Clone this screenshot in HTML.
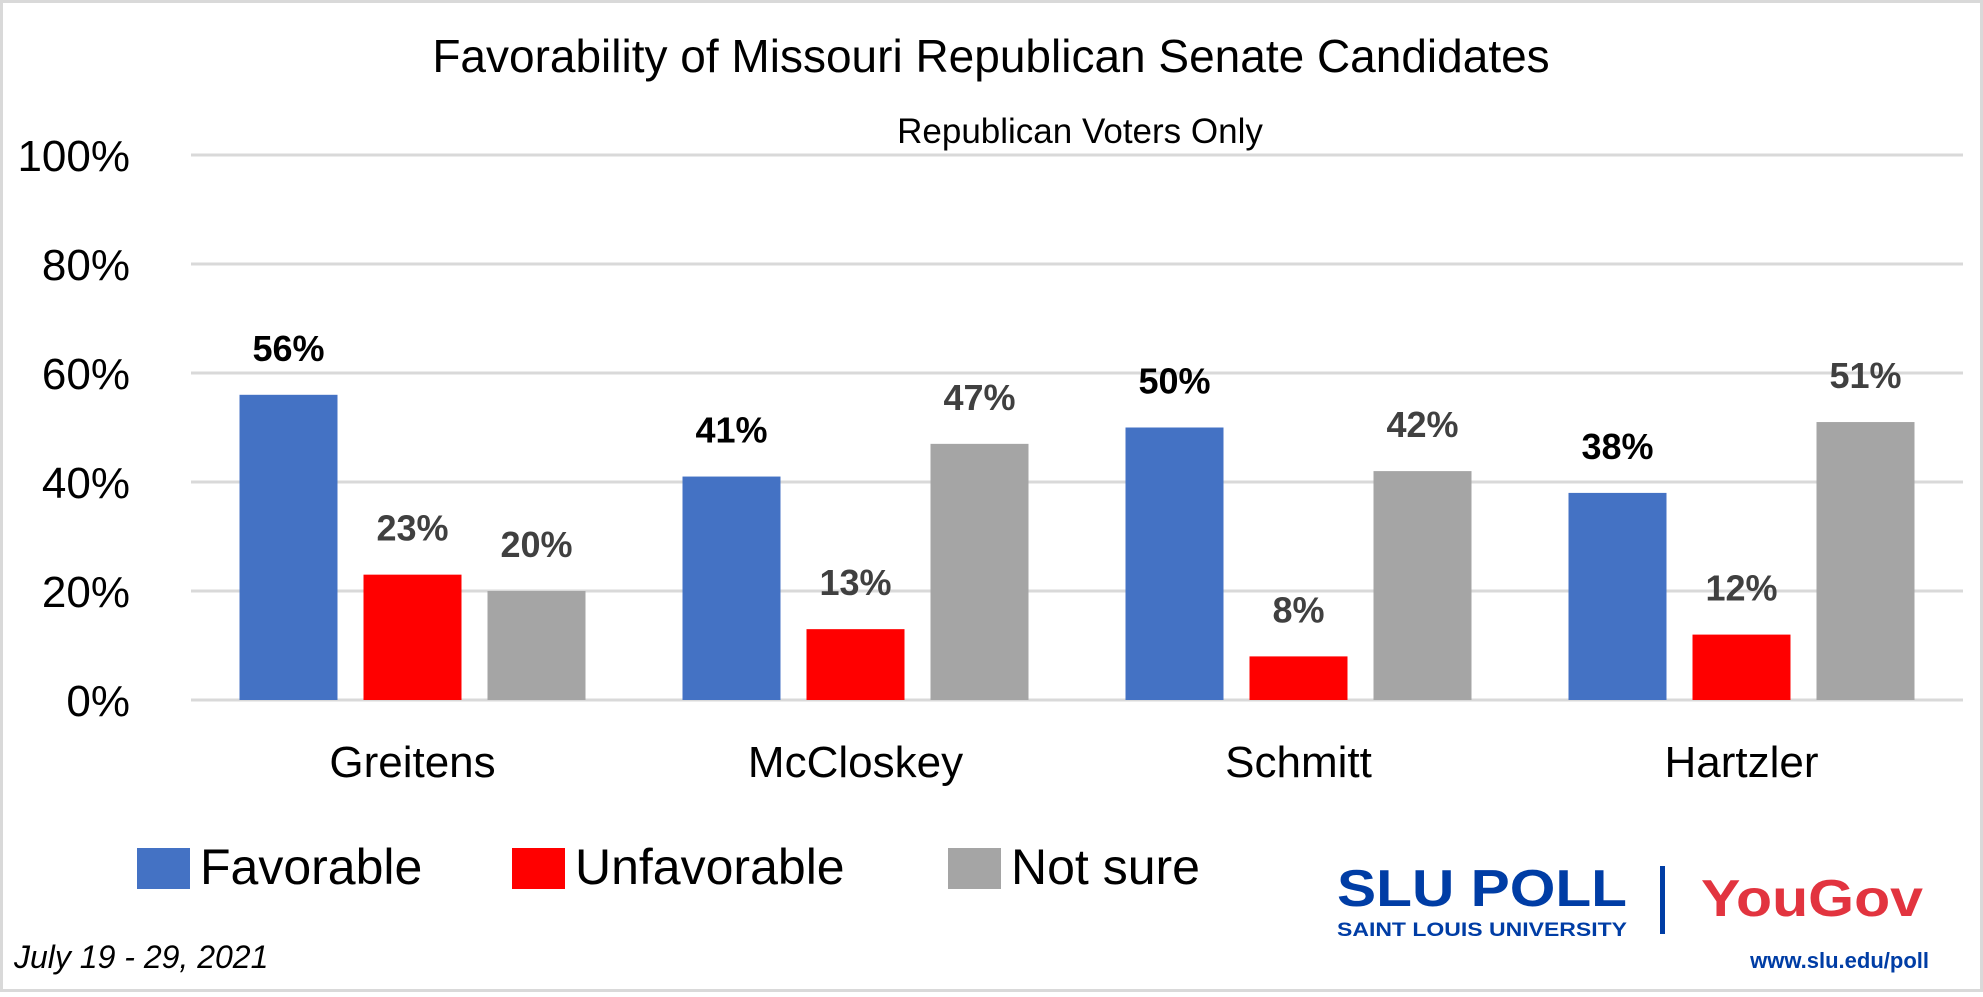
<!DOCTYPE html>
<html><head><meta charset="utf-8"><style>
html,body{margin:0;padding:0;background:#fff}
body{width:1983px;height:992px;overflow:hidden;font-family:"Liberation Sans",sans-serif}
</style></head><body>
<svg width="1983" height="992" viewBox="0 0 1983 992" id="chart" font-family="Liberation Sans, sans-serif">
<rect x="1.5" y="1.5" width="1980" height="989" fill="#fff" stroke="#d9d9d9" stroke-width="3"/>
<text x="991" y="72" font-size="46" text-anchor="middle" fill="#000">Favorability of Missouri Republican Senate Candidates</text>
<text x="1080" y="143" font-size="35" text-anchor="middle" fill="#000">Republican Voters Only</text>
<g id="grid"></g><g id="bars"></g>
<g>
<rect x="137" y="848" width="53" height="41" fill="#4472c4"/>
<text x="200" y="884" font-size="50" fill="#000">Favorable</text>
<rect x="512" y="848" width="53" height="41" fill="#ff0000"/>
<text x="575" y="884" font-size="50" fill="#000">Unfavorable</text>
<rect x="948" y="848" width="53" height="41" fill="#a5a5a5"/>
<text x="1011" y="884" font-size="50" fill="#000">Not sure</text>
</g>
<g>
<text x="1337" y="906" font-size="52" font-weight="bold" fill="#003da5" textLength="290" lengthAdjust="spacingAndGlyphs">SLU POLL</text>
<text x="1337" y="936" font-size="19" font-weight="bold" fill="#003da5" textLength="290" lengthAdjust="spacingAndGlyphs">SAINT LOUIS UNIVERSITY</text>
<rect x="1660" y="866" width="5" height="68" fill="#003da5"/>
<text x="1701" y="916" font-size="52" font-weight="bold" fill="#e2343f" textLength="222" lengthAdjust="spacingAndGlyphs">YouGov</text>
<text x="1929" y="968" font-size="22" font-weight="bold" fill="#003da5" text-anchor="end">www.slu.edu/poll</text>
</g>
<text x="14" y="968" font-size="32" font-style="italic" fill="#000">July 19 - 29, 2021</text>
</svg>
<script>
const categories=["Greitens","McCloskey","Schmitt","Hartzler"];
const favorable=[56,41,50,38];
const unfavorable=[23,13,8,12];
const notSure=[20,47,42,51];
const yTicks=[0,20,40,60,80,100];
const NS="http://www.w3.org/2000/svg";
const x0=191,x1=1963,yZero=700,yTop=155;
const y=v=>yZero-(yZero-yTop)*v/100;
const groupW=(x1-x0)/categories.length;
const grid=document.getElementById('grid'),bars=document.getElementById('bars');
function mk(tag,attrs,parent){const e=document.createElementNS(NS,tag);for(const k in attrs)e.setAttribute(k,attrs[k]);parent.appendChild(e);return e;}
yTicks.forEach(t=>{
  const l=mk('line',{x1:x0,x2:x1,y1:y(t),y2:y(t),stroke:'#d9d9d9','stroke-width':3},grid);
  
  
  const tx=mk('text',{x:130,y:y(t)+16,'font-size':44,'text-anchor':'end',fill:'#000'},grid);
  tx.textContent=t+'%';
  
  
});
const series=[{v:favorable,c:'#4472c4',lc:'#000',n:'favorable'},{v:unfavorable,c:'#ff0000',lc:'#404040',n:'unfavorable'},{v:notSure,c:'#a5a5a5',lc:'#404040',n:'not-sure'}];
const bw=98,step=124;
categories.forEach((cat,i)=>{
  const cx=x0+groupW*(i+0.5);
  series.forEach((s,j)=>{
    const bx=cx-bw/2+(j-1)*step;
    const r=mk('rect',{x:bx,y:y(s.v[i]),width:bw,height:yZero-y(s.v[i]),fill:s.c},bars);
    
    
    const t=mk('text',{x:bx+bw/2,y:y(s.v[i])-34,'font-size':36,'font-weight':'bold','text-anchor':'middle',fill:s.lc},bars);
    t.textContent=s.v[i]+'%';
    
    
  });
  const ct=mk('text',{x:cx,y:777,'font-size':44,'text-anchor':'middle',fill:'#000'},bars);
  ct.textContent=cat;
  
  
});
</script>
</body></html>
